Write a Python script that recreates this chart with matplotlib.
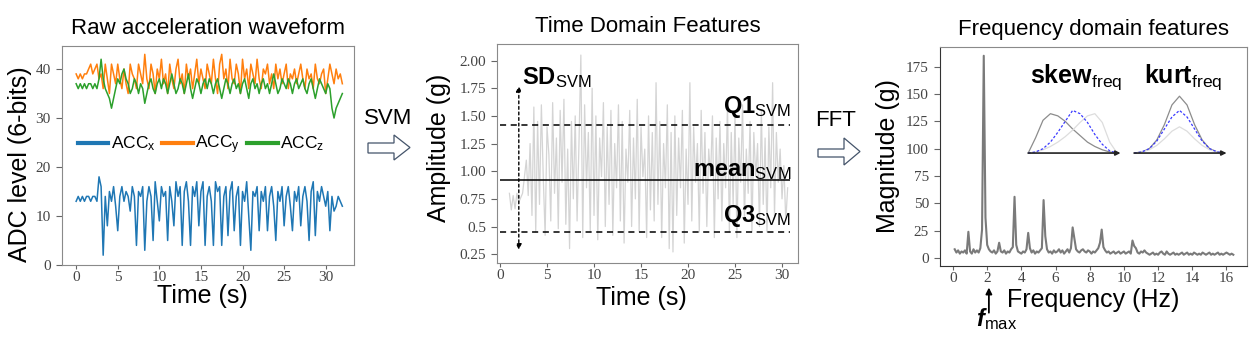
import numpy as np
import matplotlib
matplotlib.use("Agg")
import matplotlib.pyplot as plt
from matplotlib.patches import Polygon

plt.rcParams['font.family'] = 'Liberation Sans'
plt.rcParams['mathtext.fontset'] = 'custom'
plt.rcParams['mathtext.rm'] = 'Liberation Sans'
plt.rcParams['mathtext.it'] = 'Liberation Sans:italic'
plt.rcParams['mathtext.bf'] = 'Liberation Sans:bold'
plt.rcParams['mathtext.bfit'] = 'Liberation Sans:italic:bold'

# ---- raw acceleration (ADC level), 0..32 s ----
acc_x = [13, 14, 13, 14, 13, 14, 14, 13, 14, 14, 13, 18, 16, 2, 14, 8, 15, 13, 16, 12,
         7, 14, 16, 13, 15, 14, 11, 16, 14, 4, 15, 14, 16, 3, 13, 16, 14, 5, 17, 13,
         9, 16, 14, 15, 5, 16, 13, 8, 17, 14, 16, 4, 15, 17, 13, 4, 16, 14, 17, 8,
         15, 17, 4, 14, 16, 13, 4, 17, 15, 16, 4, 14, 16, 6, 15, 17, 7, 14, 16, 4,
         15, 13, 17, 10, 3, 15, 14, 16, 7, 15, 13, 16, 7, 14, 16, 12, 5, 15, 13, 16,
         8, 14, 16, 12, 7, 15, 13, 16, 8, 14, 16, 13, 5, 15, 17, 6, 15, 13, 16, 14,
         12, 15, 7, 14, 11, 12, 14, 13, 12]
acc_y = [39, 38, 39, 38, 39, 39, 40, 41, 39, 40, 41, 38, 39, 36, 41, 38, 35, 41, 39, 37,
         41, 38, 36, 40, 37, 35, 41, 39, 38, 36, 41, 39, 37, 43, 38, 36, 41, 39, 35, 40,
         38, 42, 37, 39, 35, 41, 38, 36, 40, 42, 37, 39, 35, 41, 38, 40, 36, 39, 42, 37,
         40, 38, 36, 41, 39, 37, 42, 38, 35, 41, 43, 38, 40, 36, 42, 38, 37, 41, 39, 35,
         42, 38, 40, 36, 41, 39, 37, 42, 38, 36, 40, 39, 41, 37, 39, 36, 41, 38, 40, 37,
         39, 41, 36, 39, 38, 40, 37, 39, 41, 38, 36, 40, 38, 39, 36, 41, 38, 37, 39, 40,
         35, 38, 41, 39, 37, 40, 38, 39, 37]
acc_z = [37, 36, 37, 36, 37, 36, 37, 37, 36, 37, 36, 38, 42, 38, 36, 35, 34, 32, 34, 36,
         38, 37, 39, 40, 38, 37, 35, 36, 38, 37, 35, 37, 36, 33, 35, 37, 38, 36, 35, 37,
         38, 36, 38, 37, 35, 37, 39, 37, 35, 36, 38, 37, 35, 37, 39, 36, 34, 36, 38, 37,
         35, 37, 38, 36, 38, 37, 35, 37, 38, 36, 34, 36, 38, 37, 35, 37, 38, 36, 37, 35,
         37, 38, 36, 34, 37, 38, 36, 37, 35, 37, 38, 36, 37, 35, 37, 39, 37, 35, 36, 38,
         37, 36, 38, 37, 35, 37, 38, 36, 37, 38, 36, 35, 37, 38, 36, 34, 36, 38, 37, 36,
         35, 37, 36, 32, 30, 32, 33, 34, 35]
acc_labels = [r'ACC$_\mathregular{x}$', r'ACC$_\mathregular{y}$', r'ACC$_\mathregular{z}$']

# ---- signal vector magnitude (g), 1..30.6 s ----
svm = [0.80, 0.65, 0.78, 0.66, 0.80, 0.72, 0.76, 0.80, 0.95, 1.10, 0.78, 1.25, 0.60, 1.58, 0.45, 1.45,
       0.70, 1.60, 0.95, 0.42, 1.40, 1.15, 0.55, 1.62, 0.80, 1.30, 0.48, 1.55, 0.90, 1.65,
       0.52, 1.20, 0.30, 1.45, 0.75, 1.50, 0.55, 1.25, 2.05, 0.40, 1.60, 0.85, 1.35, 0.45,
       1.75, 0.60, 1.50, 0.38, 1.30, 0.95, 1.62, 0.50, 1.40, 0.70, 1.55, 0.42, 1.25, 0.85,
       1.60, 0.55, 1.45, 0.35, 1.20, 0.90, 1.55, 0.50, 1.30, 0.75, 1.65, 0.45, 1.40, 0.95,
       1.20, 0.40, 1.50, 0.65, 1.35, 0.55, 1.80, 0.70, 1.45, 0.40, 1.25, 0.85, 1.60, 0.30,
       1.35, 0.27, 1.50, 0.60, 1.30, 0.85, 1.55, 0.35, 1.20, 0.70, 1.80, 0.55, 1.40, 0.90,
       1.25, 0.45, 1.55, 0.80, 1.35, 0.50, 1.20, 0.95, 1.50, 0.40, 1.30, 0.75, 1.45, 0.55,
       1.25, 0.85, 1.60, 0.45, 1.35, 0.70, 1.50, 0.40, 1.30, 0.90, 1.60, 0.55, 1.20, 0.80,
       1.45, 0.45, 1.35, 0.95, 1.25, 0.50, 1.55, 0.70, 1.30, 0.45, 1.40, 0.85, 1.80, 0.60,
       1.35, 0.90, 1.20, 0.75, 1.05, 0.55, 0.85]
q1_svm, mean_svm, q3_svm = 1.42, 0.92, 0.45
svm_yticks = [0.25, 0.5, 0.75, 1.0, 1.25, 1.5, 1.75, 2.0]
svm_yticklabels = ['0.25', '0.5', '0.75', '1.00', '1.25', '1.50', '1.75', '2.00']

# ---- FFT magnitude, 0.1..16.4 Hz ----
fft_mag = [8, 5, 7, 4, 6, 5, 7, 4, 24, 6, 4, 8, 5, 7, 5, 9, 26, 185, 37, 12,
           8, 6, 5, 7, 4, 6, 14, 6, 5, 7, 4, 6, 5, 8, 10, 56, 12, 6, 5, 4,
           6, 5, 8, 23, 9, 5, 7, 4, 6, 5, 7, 9, 53, 20, 8, 5, 6, 4, 7, 5,
           6, 8, 5, 7, 4, 6, 8, 5, 9, 28, 18, 8, 6, 5, 7, 8, 6, 5, 7, 6,
           4, 6, 5, 7, 9, 14, 26, 10, 7, 5, 6, 4, 5, 6, 4, 5, 6, 4, 5, 6,
           4, 5, 6, 4, 16, 11, 9, 5, 4, 6, 5, 7, 5, 4, 3, 4, 5, 3, 4, 3,
           5, 6, 4, 3, 6, 4, 3, 4, 5, 3, 4, 3, 4, 5, 3, 4, 5, 3, 4, 3,
           5, 4, 3, 4, 3, 5, 4, 3, 4, 5, 3, 4, 3, 4, 5, 3, 4, 3, 4, 5,
           4, 3, 4, 3]

# inset sketches (skewness / kurtosis illustration)
skew_dark = [96, 110, 126, 132, 130, 125, 118, 112, 106, 102, 99, 97, 96]
skew_blue = [96, 97, 100, 106, 115, 125, 135, 132, 124, 113, 104, 98, 96]
skew_light = [96, 97, 99, 102, 106, 111, 117, 124, 130, 132, 124, 106, 96]
kurt_dark = [96, 97, 100, 108, 122, 140, 148, 140, 122, 108, 100, 97, 96]
kurt_blue = [96, 97, 100, 107, 118, 129, 135, 129, 118, 107, 100, 97, 96]
kurt_light = [96, 97, 99, 103, 109, 116, 120, 116, 109, 103, 99, 97, 96]

W, H = 1260, 341
fig = plt.figure(figsize=(W / 100, H / 100), dpi=100)


def box(l, t, r, b):
    return [l / W, 1 - b / H, (r - l) / W, (b - t) / H]


def style(ax, spine_col='#8a8a8a', lb_col='#8a8a8a'):
    for s in ['top', 'right']:
        ax.spines[s].set_color(spine_col)
    for s in ['left', 'bottom']:
        ax.spines[s].set_color(lb_col)
    ax.tick_params(labelsize=11, labelcolor='#444444', color='#666666', width=0.8)
    ax.tick_params(axis='x', length=3, pad=1.5)
    ax.tick_params(axis='y', length=4, pad=4)
    for lab in ax.get_xticklabels() + ax.get_yticklabels():
        lab.set_fontfamily('Liberation Serif')


# panel 1
ax1 = fig.add_axes(box(62, 46, 354, 265))
t_acc = np.linspace(0, 32, len(acc_x))
ax1.plot(t_acc, acc_y, color='#ff7f0e', lw=1.1, label=acc_labels[1])
ax1.plot(t_acc, acc_z, color='#2ca02c', lw=1.1, label=acc_labels[2])
ax1.plot(t_acc, acc_x, color='#1f77b4', lw=1.1, label=acc_labels[0])
ax1.set_xlim(-1.7, 33.4)
ax1.set_ylim(0, 44.7)
ax1.set_xticks([0, 5, 10, 15, 20, 25, 30])
ax1.set_yticks([0, 10, 20, 30, 40])
style(ax1)
h, l = ax1.get_legend_handles_labels()
order = [2, 0, 1]
leg = ax1.legend([h[i] for i in order], [l[i] for i in order], loc='center',
                 bbox_to_anchor=(0.476, 0.548), ncol=3, frameon=False, fontsize=12.5,
                 handlelength=1.75, handletextpad=0.15, columnspacing=0.4)
for ln in leg.get_lines():
    ln.set_linewidth(3)
ax1.set_title('Raw acceleration waveform', fontsize=16, pad=9)
ax1.set_xlabel('Time (s)', fontsize=18)
ax1.set_ylabel('ADC level (6-bits)', fontsize=18)
ax1.xaxis.set_label_coords(0.48, -0.088)
ax1.yaxis.set_label_coords(-0.103, 0.46)

# panel 2
ax2 = fig.add_axes(box(497, 44, 798, 263))
t_svm = np.linspace(1.0, 30.6, len(svm))
ax2.plot(t_svm, svm, color='#d4d4d4', lw=0.9)
ax2.hlines([q1_svm, q3_svm], 0, 30.8, colors='black', linestyles=(0, (4, 3)), lw=1.1)
ax2.hlines(mean_svm, 0, 30.8, colors='black', lw=1.1)
ax2.annotate('', xy=(2.0, 1.77), xytext=(2.0, 0.29),
             arrowprops=dict(arrowstyle='<|-|>', ls=(0, (2, 2)), lw=1.0,
                             color='black', mutation_scale=8, shrinkA=0, shrinkB=0))
ax2.text(2.3, 1.79, r'$\mathbf{SD}_\mathrm{SVM}$', fontsize=17, va='baseline')
ax2.text(30.95, 1.53, r'$\mathbf{Q1}_\mathrm{SVM}$', fontsize=17, va='baseline', ha='right')
ax2.text(30.95, 0.96, r'$\mathbf{mean}_\mathrm{SVM}$', fontsize=17, va='baseline', ha='right')
ax2.text(30.95, 0.54, r'$\mathbf{Q3}_\mathrm{SVM}$', fontsize=17, va='baseline', ha='right')
ax2.set_xlim(-0.32, 31.7)
ax2.set_ylim(0.17, 2.15)
ax2.set_xticks([0, 5, 10, 15, 20, 25, 30])
ax2.set_yticks(svm_yticks)
ax2.set_yticklabels(svm_yticklabels)
style(ax2)
ax2.set_title('Time Domain Features', fontsize=16, pad=9)
ax2.set_xlabel('Time (s)', fontsize=18)
ax2.set_ylabel('Amplitude (g)', fontsize=18)
ax2.xaxis.set_label_coords(0.48, -0.105)
ax2.yaxis.set_label_coords(-0.153, 0.525)

# panel 3
ax3 = fig.add_axes(box(940, 47, 1247, 266))
f = np.linspace(0.1, 16.4, len(fft_mag))
ax3.plot(f, fft_mag, color='#7a7a7a', lw=1.5)
xs = np.linspace(4.4, 9.6, len(skew_dark))
ax3.plot(xs, skew_dark, color='#8c8c8c', lw=0.9)
ax3.plot(xs, skew_light, color='#dddddd', lw=0.9)
ax3.plot(xs, skew_blue, color='#3a3aff', lw=0.9, ls=(0, (2, 1.5)))
xk = np.linspace(10.6, 15.9, len(kurt_dark))
ax3.plot(xk, kurt_dark, color='#8c8c8c', lw=0.9)
ax3.plot(xk, kurt_light, color='#dddddd', lw=0.9)
ax3.plot(xk, kurt_blue, color='#3a3aff', lw=0.9, ls=(0, (2, 1.5)))
for x0, x1 in [(4.4, 9.8), (10.6, 16.0)]:
    ax3.annotate('', xy=(x1, 96), xytext=(x0, 96),
                 arrowprops=dict(arrowstyle='-|>', lw=1.2, color='#222222',
                                 mutation_scale=7, shrinkA=0, shrinkB=0))
ax3.text(4.5, 160, r'$\mathbf{skew}_\mathrm{freq}$', fontsize=18, va='baseline')
ax3.text(11.2, 160, r'$\mathbf{kurt}_\mathrm{freq}$', fontsize=18, va='baseline')
ax3.annotate('', xy=(2.1, -27), xytext=(2.1, -50), annotation_clip=False,
             arrowprops=dict(arrowstyle='-|>', lw=1.3, color='black',
                             mutation_scale=9, shrinkA=0, shrinkB=0))
ax3.text(1.35, -62, r'$\mathbfit{f}_\mathrm{max}$', fontsize=17, va='baseline', clip_on=False)
ax3.set_xlim(-0.76, 17.2)
ax3.set_ylim(-7.3, 193)
ax3.set_xticks(range(0, 17, 2))
ax3.set_yticks([0, 25, 50, 75, 100, 125, 150, 175])
style(ax3, lb_col='#333333')
ax3.set_title('Frequency domain features', fontsize=16, pad=9)
ax3.set_xlabel('Frequency (Hz)', fontsize=18)
ax3.set_ylabel('Magnitude (g)', fontsize=18)
ax3.xaxis.set_label_coords(0.5, -0.1)
ax3.yaxis.set_label_coords(-0.13, 0.5)


# hollow block arrows between panels
def block_arrow(x0, xh, x1, bt, bb, ht, hb):
    ym = (ht + hb) / 2
    pts = [(x0, bt), (xh, bt), (xh, ht), (x1, ym), (xh, hb), (xh, bb), (x0, bb)]
    pts = [(x / W, 1 - y / H) for x, y in pts]
    fig.patches.append(Polygon(pts, closed=True, transform=fig.transFigure,
                               facecolor='white', edgecolor='#44546a', lw=0.9))


block_arrow(368, 394, 410, 143, 153, 135, 160)
block_arrow(818, 844, 860, 149, 157, 138, 165)
fig.text(388 / W, 1 - 119 / H, 'SVM', fontsize=16, ha='center', va='center')
fig.text(836 / W, 1 - 120 / H, 'FFT', fontsize=16, ha='center', va='center')

fig.savefig('out.png', dpi=100, facecolor='white')
